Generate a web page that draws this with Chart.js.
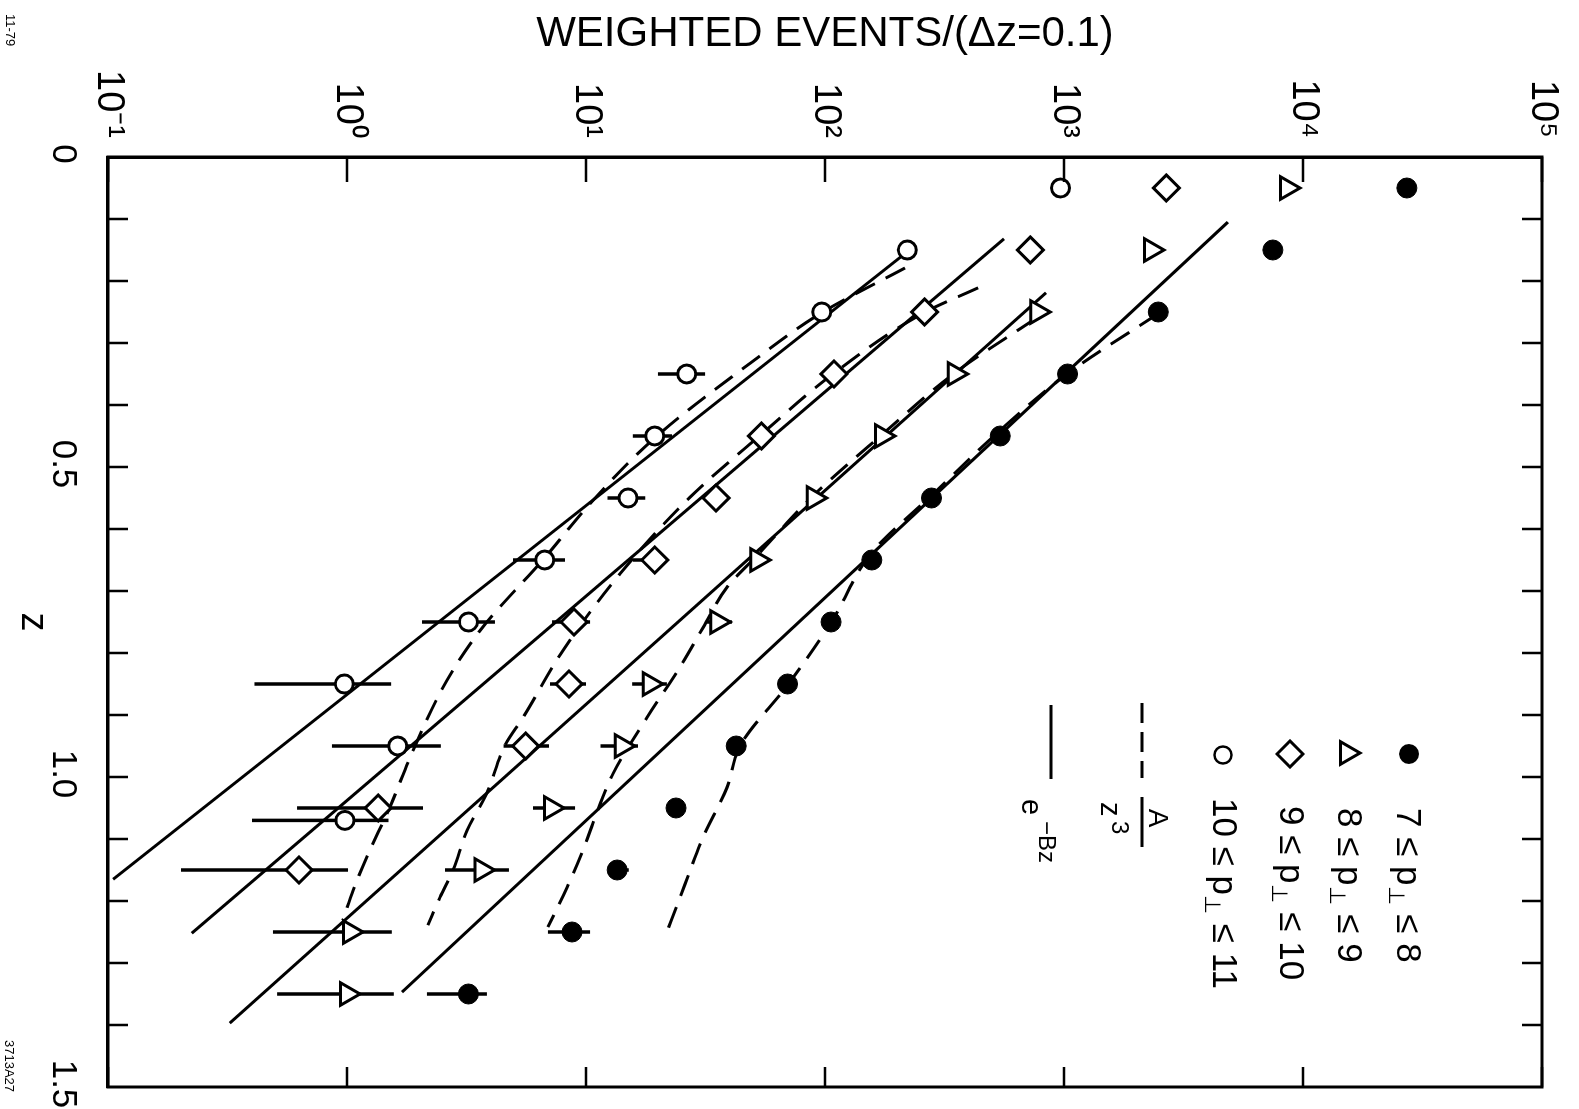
<!DOCTYPE html>
<html>
<head>
<meta charset="utf-8">
<title>Weighted events vs z</title>
<script src="https://cdn.jsdelivr.net/npm/chart.js@4.4.1/dist/chart.umd.min.js"></script>
<style>
  html, body { margin: 0; padding: 0; background: #fff; }
  body { width: 1579px; height: 1109px; overflow: hidden; position: relative; }
  /* the figure is printed sideways: draw it upright, then turn it a quarter clockwise */
  #wrap { position: absolute; left: 0; top: 0; width: 1109px; height: 1579px;
          transform-origin: 0 0; transform: translateX(1579px) rotate(90deg); }
</style>
</head>
<body>
<div id="wrap"><canvas id="grafico" width="1109" height="1579"></canvas></div>
<script>
// bin centres in z
const zBins = [0.05, 0.15, 0.25, 0.35, 0.45, 0.55, 0.65, 0.75, 0.85, 0.95, 1.05, 1.15, 1.25, 1.35]
const zBinsCirc = [0.05, 0.15, 0.25, 0.35, 0.45, 0.55, 0.65, 0.75, 0.85, 0.95, 1.07]

// weighted events / (dz = 0.1) for each p_perp band
const pt7to8 = [27200, 7480, 2480, 1035, 541, 279, 157, 106, 69.7, 42.5, 23.8, 13.5, 8.74, 3.22]
const pt8to9 = [8570, 2310, 773, 349, 173, 89.7, 52.1, 35.4, 18.5, 14.1, 7.13, 3.65, 1.03, 1.00]
const pt9to10 = [2680, 723, 261, 109, 54.2, 35.0, 19.4, 8.91, 8.49, 5.59, 1.35, 0.63]
const pt10to11 = [967, 221, 97, 26.4, 19.4, 15.0, 6.72, 3.22, 0.975, 1.63, 0.98]

// error bars (low / high end), null = none drawn
const err7to8Lo = [null, null, null, null, null, null, null, null, null, null, null, 12.5, 6.93, 2.16]
const err7to8Hi = [null, null, null, null, null, null, null, null, null, null, null, 15.1, 10.4, 3.85]
const err8to9Lo = [null, null, null, null, null, null, null, 32.1, 15.6, 11.5, 6.0, 2.57, 0.49, 0.51]
const err8to9Hi = [null, null, null, null, null, null, null, 40.8, 21.8, 16.5, 9.0, 4.76, 1.54, 1.57]
const err9to10Lo = [null, null, null, null, null, null, 15.7, 7.21, 7.07, 4.52, 0.618, 0.202]
const err9to10Hi = [null, null, null, null, null, null, 20.0, 10.4, 10.0, 7.0, 2.08, 1.01]
const err10to11Lo = [null, null, null, 20.0, 15.7, 12.3, 4.95, 2.06, 0.41, 0.865, 0.40]
const err10to11Hi = [null, null, null, 31.5, 22.9, 17.7, 8.17, 4.16, 1.53, 2.47, 1.49]

// e^-Bz fits (straight on the log axis): end points
const expZ7to8 = [0.105, 1.347]
const expY7to8 = [4850, 1.70]
const expZ8to9 = [0.219, 1.397]
const expY8to9 = [841, 0.323]
const expZ9to10 = [0.132, 1.252]
const expY9to10 = [561, 0.224]
const expZ10to11 = [0.147, 1.165]
const expY10to11 = [231, 0.105]

// A/z^3 fits
const powZ7to8 = [0.253, 0.350, 0.441, 0.545, 0.638, 0.751, 0.851, 0.950, 1.017, 1.097, 1.174, 1.258]
const powY7to8 = [2470, 1030, 540, 281, 157, 106, 70, 44.1, 38.9, 30.9, 25.9, 21.4]
const powZ8to9 = [0.261, 0.348, 0.448, 0.545, 0.643, 0.694, 0.759, 0.823, 0.904, 0.994, 1.042, 1.118, 1.178, 1.242]
const powY8to9 = [757, 350, 173, 90, 51.9, 38.9, 30.9, 24.7, 18.0, 13.0, 11.5, 9.71, 8.33, 6.93]
const powZ9to10 = [0.211, 0.251, 0.350, 0.449, 0.549, 0.672, 0.796, 0.904, 0.949, 1.026, 1.086, 1.150, 1.194, 1.239]
const powY9to10 = [437, 260, 108, 53.5, 27.2, 13.9, 8.01, 5.45, 4.58, 3.85, 3.18, 2.78, 2.45, 2.18]
const powZ10to11 = [0.179, 0.251, 0.333, 0.453, 0.559, 0.646, 0.764, 0.844, 0.957, 1.049, 1.129, 1.183, 1.231]
const powY10to11 = [216, 97, 48.5, 19.4, 10.4, 6.73, 3.60, 2.62, 1.89, 1.51, 1.21, 1.06, 0.96]

// axis ticks
const decades = [0.1, 1, 10, 100, 1000, 10000, 100000]
const decadeLabels = ['10⁻¹', '10⁰', '10¹', '10²', '10³', '10⁴', '10⁵']
const zLabelValues = [0, 0.5, 1.0, 1.5]
const zLabels = ['0', '0.5', '1.0', '1.5']
const zTickValues = [0.1, 0.2, 0.3, 0.4, 0.5, 0.6, 0.7, 0.8, 0.9, 1.0, 1.1, 1.2, 1.3, 1.4]

const FONT = '"Liberation Sans", Arial, sans-serif'

function pts(xs, ys) {
  return xs.map((x, i) => ({ x: x, y: ys[i] }))
}

function marker(label, xs, ys, style, radius, fill, bw) {
  return {
    label: label, data: pts(xs, ys), showLine: false,
    pointStyle: style, pointRadius: radius, pointHoverRadius: radius,
    pointBackgroundColor: fill, pointBorderColor: '#000', pointBorderWidth: bw
  }
}

function fitLine(xs, ys, dashed) {
  return {
    label: dashed ? 'A/z3' : 'e-Bz', data: pts(xs, ys), showLine: true,
    pointRadius: 0, pointHoverRadius: 0, borderColor: '#000', borderWidth: 3,
    borderDash: dashed ? [22, 12] : [], cubicInterpolationMode: dashed ? 'monotone' : 'default',
    fill: false
  }
}

const errorSets = [
  { z: zBins, lo: err7to8Lo, hi: err7to8Hi },
  { z: zBins, lo: err8to9Lo, hi: err8to9Hi },
  { z: zBins, lo: err9to10Lo, hi: err9to10Hi },
  { z: zBinsCirc, lo: err10to11Lo, hi: err10to11Hi }
]

const errorBarPlugin = {
  id: 'errorBars',
  beforeDatasetsDraw(chart) {
    const ctx = chart.ctx
    const xs = chart.scales.x, ys = chart.scales.y
    ctx.save()
    ctx.strokeStyle = '#000'
    ctx.lineWidth = 3.5
    errorSets.forEach(set => {
      set.z.forEach((z, i) => {
        if (set.lo[i] == null) return
        const px = xs.getPixelForValue(z)
        ctx.beginPath()
        ctx.moveTo(px, ys.getPixelForValue(set.lo[i]))
        ctx.lineTo(px, ys.getPixelForValue(set.hi[i]))
        ctx.stroke()
      })
    })
    ctx.restore()
  }
}

// closed frame with ticks pointing inwards on all four sides
const framePlugin = {
  id: 'frame',
  afterDatasetsDraw(chart) {
    const ctx = chart.ctx
    const a = chart.chartArea
    const xs = chart.scales.x, ys = chart.scales.y
    ctx.save()
    ctx.strokeStyle = '#000'
    ctx.lineWidth = 3
    ctx.strokeRect(a.left, a.top, a.right - a.left, a.bottom - a.top)
    ctx.lineWidth = 2.5
    decades.forEach(v => {
      const py = ys.getPixelForValue(v)
      ctx.beginPath()
      ctx.moveTo(a.left, py); ctx.lineTo(a.left + 25, py)
      ctx.moveTo(a.right, py); ctx.lineTo(a.right - 20, py)
      ctx.stroke()
    })
    zTickValues.forEach(v => {
      const px = xs.getPixelForValue(v)
      ctx.beginPath()
      ctx.moveTo(px, a.bottom); ctx.lineTo(px, a.bottom - 20)
      ctx.moveTo(px, a.top); ctx.lineTo(px, a.top + 20)
      ctx.stroke()
    })
    ctx.restore()
  }
}

function drawBand(ctx, x, y, a, b) {
  let cx = x
  const put = (t, size, dy) => {
    ctx.font = size + 'px ' + FONT
    ctx.fillText(t, cx, y + dy)
    cx += ctx.measureText(t).width
  }
  put(a + ' ≤ p', 35, 0)
  put('⊥', 22, 12)
  put(' ≤ ' + b, 35, 0)
}

const legendPlugin = {
  id: 'legendaFigura',
  afterDraw(chart) {
    const ctx = chart.ctx
    ctx.save()
    ctx.fillStyle = '#000'
    ctx.strokeStyle = '#000'
    ctx.textBaseline = 'middle'
    ctx.textAlign = 'left'

    // filled circle
    ctx.beginPath(); ctx.arc(754, 170, 10, 0, Math.PI * 2); ctx.fill()
    drawBand(ctx, 808, 172, '7', '8')
    // triangle
    ctx.lineWidth = 3
    ctx.beginPath()
    ctx.moveTo(753, 232 - 13); ctx.lineTo(753 + 11.3, 232 + 6.5); ctx.lineTo(753 - 11.3, 232 + 6.5)
    ctx.closePath(); ctx.stroke()
    drawBand(ctx, 808, 231, '8', '9')
    // diamond
    ctx.beginPath()
    ctx.moveTo(754, 289 - 13); ctx.lineTo(754 + 13, 289); ctx.lineTo(754, 289 + 13); ctx.lineTo(754 - 13, 289)
    ctx.closePath(); ctx.stroke()
    drawBand(ctx, 806, 289, '9', '10')
    // open circle
    ctx.lineWidth = 2.5
    ctx.beginPath(); ctx.arc(755, 356, 8.5, 0, Math.PI * 2); ctx.stroke()
    drawBand(ctx, 798, 356, '10', '11')

    // dashed: A / z^3
    ctx.lineWidth = 3
    ctx.setLineDash([20, 9])
    ctx.beginPath(); ctx.moveTo(703, 437); ctx.lineTo(778, 437); ctx.stroke()
    ctx.setLineDash([])
    ctx.beginPath(); ctx.moveTo(797, 437); ctx.lineTo(847, 437); ctx.stroke()
    ctx.textAlign = 'center'
    ctx.font = '28px ' + FONT
    ctx.fillText('A', 818, 422)
    ctx.textAlign = 'left'
    ctx.font = '29px ' + FONT
    ctx.fillText('z', 802, 470)
    ctx.font = '24px ' + FONT
    ctx.fillText('3', 821, 460)

    // solid: e^-Bz
    ctx.beginPath(); ctx.moveTo(705, 528); ctx.lineTo(779, 528); ctx.stroke()
    ctx.font = '29px ' + FONT
    ctx.fillText('e', 799, 549)
    ctx.font = '24px ' + FONT
    ctx.fillText('−Bz', 821, 533)

    // small plate numbers in the margin
    ctx.font = '13px ' + FONT
    ctx.fillText('11-79', 14, 1569)
    ctx.fillText('3713A27', 1040, 1570)
    ctx.restore()
  }
}

// no extra room for half tick labels at the ends: the frame is fixed
function noEdgePadding(scale) {
  scale.paddingLeft = 0
  scale.paddingRight = 0
  scale.paddingTop = 0
  scale.paddingBottom = 0
}

const ctx = document.getElementById('grafico').getContext('2d')

new Chart(ctx, {
  type: 'scatter',
  data: {
    datasets: [
      marker('7 ≤ p⊥ ≤ 8', zBins, pt7to8, 'circle', 10, '#000', 1),
      marker('8 ≤ p⊥ ≤ 9', zBins, pt8to9, 'triangle', 13, '#fff', 3),
      marker('9 ≤ p⊥ ≤ 10', zBins.slice(0, pt9to10.length), pt9to10, 'rectRot', 13, '#fff', 3),
      marker('10 ≤ p⊥ ≤ 11', zBinsCirc, pt10to11, 'circle', 9, '#fff', 3),
      fitLine(expZ7to8, expY7to8, false),
      fitLine(expZ8to9, expY8to9, false),
      fitLine(expZ9to10, expY9to10, false),
      fitLine(expZ10to11, expY10to11, false),
      fitLine(powZ7to8, powY7to8, true),
      fitLine(powZ8to9, powY8to9, true),
      fitLine(powZ9to10, powY9to10, true),
      fitLine(powZ10to11, powY10to11, true)
    ]
  },
  options: {
    responsive: false,
    animation: false,
    devicePixelRatio: 1,
    layout: { padding: { top: 37, right: 22, bottom: 0, left: 0 } },
    plugins: {
      legend: { display: false },
      tooltip: { enabled: false }
    },
    scales: {
      x: {
        type: 'linear',
        min: 0,
        max: 1.5,
        afterFit: (scale) => { scale.height = 108; noEdgePadding(scale) },
        afterBuildTicks: (scale) => { scale.ticks = zLabelValues.map(v => ({ value: v })) },
        grid: { display: false, drawTicks: false },
        border: { display: true, color: '#000', width: 3 },
        ticks: {
          color: '#000',
          font: { family: FONT, size: 35 },
          padding: 24,
          labelOffset: -3,
          maxRotation: 0,
          minRotation: 0,
          autoSkip: false,
          callback: (v) => {
            const i = zLabelValues.findIndex(t => Math.abs(t - v) < 1e-9)
            return i >= 0 ? zLabels[i] : ''
          }
        },
        title: {
          display: true,
          text: 'z',
          color: '#000',
          font: { family: FONT, size: 38 },
          padding: { top: 0, bottom: 10 }
        }
      },
      y: {
        type: 'logarithmic',
        min: 0.1,
        max: 100000,
        afterFit: (scale) => { scale.width = 157; noEdgePadding(scale) },
        afterBuildTicks: (scale) => { scale.ticks = decades.map(v => ({ value: v })) },
        grid: { display: false, drawTicks: false },
        border: { display: true, color: '#000', width: 3 },
        ticks: {
          color: '#000',
          font: { family: FONT, size: 38 },
          padding: 19,
          autoSkip: false,
          callback: (v) => {
            const i = decades.findIndex(t => Math.abs(t - v) / t < 1e-6)
            return i >= 0 ? decadeLabels[i] : ''
          }
        },
        title: {
          display: true,
          text: 'WEIGHTED EVENTS/(Δz=0.1)',
          color: '#000',
          font: { family: FONT, size: 42 },
          padding: { top: 9, bottom: 0 }
        }
      }
    }
  },
  plugins: [errorBarPlugin, framePlugin, legendPlugin]
})
</script>
</body>
</html>
